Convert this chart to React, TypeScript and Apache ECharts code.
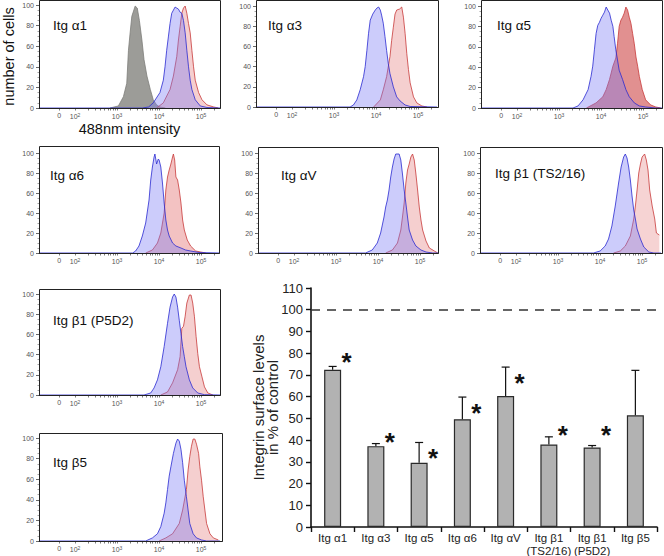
import React, { useEffect, useRef } from 'react';
import * as echarts from 'echarts';

const FONT = '"Liberation Sans", Arial, Helvetica, sans-serif';
const NARROW = '"Liberation Sans Narrow", "Liberation Sans", Arial, sans-serif';

// ---------- Histogram data: [log10 intensity, % of max cells] ----------
const a1Gray = [[2.83,0],[3.03,2],[3.15,11],[3.23,24],[3.27,56],[3.31,73],[3.35,89],[3.43,99],[3.48,97],[3.53,85],[3.59,66],[3.64,47],[3.71,31],[3.79,18],[3.86,8],[3.94,3],[4.02,1],[4.15,0]];
const a1Blue = [[1.14,0],[3.6,0],[3.75,1],[3.86,5],[4.02,15],[4.10,27],[4.14,40],[4.18,56],[4.22,69],[4.26,82],[4.30,92],[4.38,98],[4.42,97],[4.46,96],[4.50,93],[4.54,92],[4.58,85],[4.62,73],[4.66,56],[4.70,40],[4.74,27],[4.78,18],[4.86,8],[4.98,2],[5.14,0.5],[5.45,0]];
const a1Red = [[3.94,0],[4.10,5],[4.26,18],[4.34,31],[4.42,50],[4.46,66],[4.50,79],[4.54,92],[4.58,97],[4.62,99],[4.66,92],[4.70,82],[4.74,73],[4.78,56],[4.82,40],[4.86,27],[4.94,15],[5.02,8],[5.14,3],[5.30,1],[5.41,0]];

const a3Blue = [[1.14,0],[3.38,0],[3.46,2],[3.54,7],[3.62,17],[3.70,30],[3.74,40],[3.78,56],[3.82,73],[3.86,86],[3.92,92],[3.98,96],[4.02,98],[4.06,99],[4.10,96],[4.13,91],[4.17,83],[4.21,70],[4.25,56],[4.29,43],[4.33,33],[4.41,20],[4.49,10],[4.57,6],[4.69,2],[4.81,0.5],[5.45,0]];
const a3Red = [[3.94,0],[4.10,7],[4.17,17],[4.25,30],[4.33,50],[4.37,66],[4.41,79],[4.45,92],[4.49,96],[4.56,97],[4.61,99],[4.65,89],[4.69,73],[4.73,53],[4.77,37],[4.81,24],[4.89,10],[4.97,4],[5.09,1],[5.21,0]];

const a5Blue = [[1.14,0],[3.33,0],[3.45,2],[3.57,8],[3.69,18],[3.76,31],[3.80,41],[3.84,57],[3.88,73],[3.92,81],[3.96,84],[4.0,88],[4.04,91],[4.08,94],[4.12,99],[4.16,96],[4.20,93],[4.24,86],[4.28,80],[4.31,70],[4.35,57],[4.39,47],[4.43,37],[4.51,28],[4.59,18],[4.67,11],[4.79,5],[4.91,2],[5.06,1],[5.30,0],[5.45,0]];
const a5Red = [[3.65,0],[3.88,5],[4.04,11],[4.12,18],[4.20,28],[4.28,41],[4.35,49],[4.39,63],[4.43,80],[4.47,86],[4.51,89],[4.55,93],[4.59,99],[4.63,96],[4.67,89],[4.71,83],[4.75,73],[4.79,63],[4.83,50],[4.87,41],[4.91,31],[4.98,18],[5.06,8],[5.18,3],[5.30,1],[5.42,0]];

const a6Blue = [[1.14,0],[3.37,0],[3.44,2],[3.52,7],[3.60,17],[3.68,30],[3.76,53],[3.80,73],[3.84,86],[3.88,96],[3.90,99],[3.94,89],[3.98,94],[4.0,93],[4.04,86],[4.08,70],[4.12,50],[4.16,33],[4.20,23],[4.24,17],[4.32,10],[4.40,7],[4.52,5],[4.63,3],[4.75,2],[4.95,0.5],[5.45,0]];
const a6Red = [[3.68,0],[3.84,3],[3.96,10],[4.04,20],[4.12,40],[4.16,63],[4.20,76],[4.24,83],[4.28,89],[4.32,96],[4.34,99],[4.37,93],[4.40,76],[4.44,73],[4.48,63],[4.52,50],[4.56,33],[4.60,23],[4.67,13],[4.75,7],[4.87,2],[4.99,1],[5.11,0]];

const aVBlue = [[1.14,0],[3.70,0],[3.86,3],[3.98,10],[4.06,20],[4.14,36],[4.18,46],[4.22,53],[4.26,63],[4.30,76],[4.34,86],[4.38,94],[4.42,99],[4.50,99],[4.54,93],[4.58,79],[4.62,63],[4.66,50],[4.70,36],[4.74,23],[4.82,13],[4.90,7],[5.02,3],[5.14,1],[5.30,0],[5.45,0]];
const aVRed = [[4.18,0],[4.34,3],[4.46,10],[4.54,23],[4.58,36],[4.62,50],[4.66,70],[4.70,83],[4.74,89],[4.78,96],[4.82,99],[4.86,93],[4.90,79],[4.94,63],[4.98,46],[5.02,33],[5.06,23],[5.14,12],[5.22,5],[5.34,2],[5.42,0]];

const b1tsBlue = [[1.14,0],[3.84,0],[4.0,2],[4.12,7],[4.20,14],[4.28,27],[4.36,47],[4.44,70],[4.50,86],[4.56,96],[4.60,99],[4.64,95],[4.68,86],[4.72,73],[4.76,57],[4.80,43],[4.84,34],[4.88,24],[4.96,14],[5.04,6],[5.16,1],[5.28,0],[5.45,0]];
const b1tsRed = [[4.32,0],[4.48,2],[4.60,7],[4.72,17],[4.80,34],[4.84,47],[4.88,63],[4.92,80],[4.96,89],[5.0,96],[5.06,99],[5.10,93],[5.14,83],[5.18,63],[5.24,47],[5.30,34],[5.34,20],[5.41,18]];

const b1p5Blue = [[1.14,0],[3.64,0],[3.80,2],[3.88,7],[3.96,15],[4.04,28],[4.12,48],[4.20,71],[4.26,87],[4.32,97],[4.36,100],[4.40,97],[4.44,87],[4.48,74],[4.52,61],[4.56,48],[4.60,38],[4.64,28],[4.72,15],[4.80,7],[4.92,2],[5.08,0.3],[5.45,0]];
const b1p5Red = [[4.04,0],[4.20,3],[4.32,12],[4.44,25],[4.50,38],[4.54,66],[4.58,68],[4.62,78],[4.66,91],[4.72,99],[4.76,99],[4.80,91],[4.84,78],[4.88,58],[4.92,41],[4.96,28],[5.02,18],[5.08,8],[5.16,2],[5.28,0]];

const b5Blue = [[1.14,0],[3.68,0],[3.84,3],[3.96,7],[4.04,14],[4.12,27],[4.16,37],[4.20,50],[4.24,63],[4.28,72],[4.34,85],[4.40,95],[4.44,99],[4.48,97],[4.52,89],[4.56,76],[4.60,59],[4.65,43],[4.69,30],[4.73,17],[4.81,7],[4.89,3],[5.01,1],[5.13,0],[5.45,0]];
const b5Red = [[4.0,0],[4.16,3],[4.32,7],[4.48,17],[4.56,30],[4.65,50],[4.69,69],[4.73,82],[4.77,92],[4.81,99],[4.85,99],[4.89,94],[4.94,85],[4.97,72],[5.01,59],[5.05,43],[5.09,30],[5.13,17],[5.21,7],[5.29,3],[5.41,1]];

// histogram axis ticks (logicle axis positions)
const xTickPos = [1.62, 2, 3, 4, 5];
const xTickText = ['0', '10{s|2}', '10{s|3}', '10{s|4}', '10{s|5}'];
const xMinorPos = [1.62, 2, 2.301, 2.477, 2.602, 2.699, 2.778, 2.845, 2.903, 2.954, 3, 3.301, 3.477, 3.602, 3.699, 3.778, 3.845, 3.903, 3.954, 4, 4.301, 4.477, 4.602, 4.699, 4.778, 4.845, 4.903, 4.954, 5, 5.301];
const yTickVals = [0, 20, 40, 60, 80, 100];

// ---------- Bar chart data ----------
const categories = ['Itg α1', 'Itg α3', 'Itg α5', 'Itg α6', 'Itg αV', 'Itg β1\n(TS2/16)', 'Itg β1\n(P5D2)', 'Itg β5'];
const means = [72.4, 37.2, 29.6, 49.6, 60.3, 38.0, 36.6, 51.4];
const errUp = [1.5, 1.2, 9.3, 10.2, 13.3, 3.5, 0.9, 20.7];
const starAt = [78.3, 41.6, 34.0, 55.0, 68.8, 44.7, 44.7, null];

// ---------- Layout (panel frames in px; y100 = pixel row of the 100 tick) ----------
const panels = [
  { title: 'Itg α1', gray: a1Gray, blue: a1Blue, red: a1Red, left: 39, top: 0, width: 181, bottom: 108, y100: 5, tx: 53, ty: 25, redFill: 'rgba(228,130,130,0.38)' },
  { title: 'Itg α3', blue: a3Blue, red: a3Red, left: 256, top: 0, width: 182, bottom: 107, y100: 6, tx: 268, ty: 25, redFill: 'rgba(228,130,130,0.38)' },
  { title: 'Itg α5', blue: a5Blue, red: a5Red, left: 481, top: 0, width: 181, bottom: 108, y100: 6, tx: 497, ty: 25, redFill: 'rgba(205,70,70,0.6)' },
  { title: 'Itg α6', blue: a6Blue, red: a6Red, left: 39, top: 146, width: 180, bottom: 253, y100: 153, tx: 50, ty: 175, redFill: 'rgba(228,120,120,0.45)' },
  { title: 'Itg αV', blue: aVBlue, red: aVRed, left: 258, top: 147, width: 180, bottom: 253, y100: 153, tx: 281, ty: 175, redFill: 'rgba(228,130,130,0.38)' },
  { title: 'Itg β1 (TS2/16)', blue: b1tsBlue, red: b1tsRed, left: 480, top: 147, width: 182, bottom: 253, y100: 153, tx: 495, ty: 173, redFill: 'rgba(228,130,130,0.35)' },
  { title: 'Itg β1 (P5D2)', blue: b1p5Blue, red: b1p5Red, left: 39, top: 289, width: 181, bottom: 395, y100: 294, tx: 53, ty: 320, redFill: 'rgba(228,130,130,0.38)' },
  { title: 'Itg β5', blue: b5Blue, red: b5Red, left: 39, top: 433, width: 183, bottom: 541, y100: 438, tx: 53, ty: 462, redFill: 'rgba(228,130,130,0.38)' },
];

function buildOption() {
  const grid: any[] = [];
  const xAxis: any[] = [];
  const yAxis: any[] = [];
  const series: any[] = [];
  const graphic: any[] = [];

  panels.forEach((p, i) => {
    grid.push({ left: p.left, top: p.y100, width: p.width, height: p.bottom - p.y100, show: false, outerBoundsMode: 'none', containLabel: false });
    graphic.push({ type: 'rect', z: 5, shape: { x: p.left + 0.5, y: p.top + 0.5, width: p.width, height: p.bottom - p.top },
      style: { fill: 'none', stroke: '#222', lineWidth: 1 } });
    xAxis.push({
      type: 'value', gridIndex: i, min: 1.14, max: 1.14 + p.width / 42,
      axisLine: { show: true, onZero: false, lineStyle: { color: '#222', width: 1 } },
      axisTick: { show: true, customValues: xMinorPos, length: 2.5, lineStyle: { color: '#444', width: 0.7 } },
      axisLabel: {
        show: true, customValues: xTickPos, margin: 4, color: '#555', fontSize: 7, fontFamily: FONT,
        formatter: (v: number) => {
          const k = xTickPos.findIndex((q) => Math.abs(q - v) < 1e-6);
          return k >= 0 ? xTickText[k] : '';
        },
        rich: { s: { fontSize: 5, verticalAlign: 'top', color: '#555', padding: [0, 0, 3, 0] } },
      },
      splitLine: { show: false },
      ...(i === 0 ? { name: '488nm intensity', nameLocation: 'middle', nameGap: 13, nameTextStyle: { fontSize: 14.5, color: '#111', fontFamily: FONT, verticalAlign: 'top' } } : {}),
    });
    yAxis.push({
      type: 'value', gridIndex: i, min: 0, max: 100, interval: 20, position: 'left',
      axisLine: { show: true, onZero: false, lineStyle: { color: '#222', width: 1 } },
      axisTick: { show: true, length: 3, lineStyle: { color: '#444', width: 0.8 } },
      minorTick: { show: true, splitNumber: 4, length: 1.5, lineStyle: { color: '#666', width: 0.6 } },
      axisLabel: { show: false },
      splitLine: { show: false },
      ...(i === 0 ? { name: 'number of cells', nameLocation: 'middle', nameGap: 23, nameMoveOverlap: false, nameTextStyle: { fontSize: 14.5, color: '#111', fontFamily: FONT } } : {}),
    });
    // y tick labels for the 0..100 scale of this panel
    yTickVals.forEach((v) => {
      graphic.push({ type: 'text', x: p.left - 5, y: p.bottom - ((p.bottom - p.y100) * v) / 100, z: 10,
        style: { text: String(v), fontSize: 7, fill: '#555', fontFamily: FONT, align: 'right', verticalAlign: 'middle' } });
    });
    if (p.gray) {
      series.push({ type: 'line', xAxisIndex: i, yAxisIndex: i, data: p.gray, symbol: 'none', smooth: false,
        lineStyle: { color: '#7d7d7a', width: 0.8 }, areaStyle: { color: '#9c9c98', opacity: 1 }, z: 2 });
    }
    series.push({ type: 'line', xAxisIndex: i, yAxisIndex: i, data: p.red, symbol: 'none',
      lineStyle: { color: '#c83a3a', width: 0.8 }, areaStyle: { color: p.redFill, opacity: 1 }, z: 3 });
    series.push({ type: 'line', xAxisIndex: i, yAxisIndex: i, data: p.blue, symbol: 'none',
      lineStyle: { color: '#2a2ad0', width: 0.8 }, areaStyle: { color: 'rgba(120,120,245,0.38)', opacity: 1 }, z: 4 });
    graphic.push({ type: 'text', x: p.tx, y: p.ty, z: 10, style: { text: p.title, fontSize: 13.5, fill: '#111', fontFamily: NARROW, verticalAlign: 'middle', align: 'left' } });
  });

  // ---------- Bar chart ----------
  const bi = panels.length;
  grid.push({ left: 311, top: 288, width: 346, height: 239, show: false, outerBoundsMode: 'none', containLabel: false });
  xAxis.push({
    type: 'category', gridIndex: bi, data: categories,
    axisLine: { show: true, lineStyle: { color: '#111', width: 1.6 } },
    axisTick: { show: true, length: 5, lineStyle: { color: '#111', width: 1.4 } },
    axisLabel: { margin: 4, fontSize: 11.5, color: '#222', fontFamily: FONT, lineHeight: 13, interval: 0 },
  });
  yAxis.push({
    type: 'value', gridIndex: bi, min: 0, max: 110, interval: 10,
    axisLine: { show: true, lineStyle: { color: '#111', width: 1.6 } },
    axisTick: { show: true, length: 5, lineStyle: { color: '#111', width: 1.4 } },
    axisLabel: { margin: 8, fontSize: 13, color: '#222', fontFamily: FONT, showMaxLabel: true },
    splitLine: { show: false },
    name: 'Integrin surface levels\nin % of control', nameLocation: 'middle', nameGap: 32, nameMoveOverlap: false,
    nameTextStyle: { fontSize: 15, color: '#222', fontFamily: FONT, lineHeight: 13.5 },
  });
  series.push({
    type: 'bar', xAxisIndex: bi, yAxisIndex: bi, data: means, barWidth: 17,
    itemStyle: { color: '#b2b2b2', borderColor: '#2a2a2a', borderWidth: 1.2 },
    markLine: {
      symbol: 'none', silent: true, label: { show: false },
      lineStyle: { type: [9, 7], color: '#333', width: 1.6 },
      data: [{ yAxis: 100 }],
    },
    z: 2,
  });
  series.push({
    type: 'custom', xAxisIndex: bi, yAxisIndex: bi, z: 3,
    data: means.map((m, i) => [i, m, errUp[i]]),
    renderItem: (params: any, api: any) => {
      const x = api.value(0), m = api.value(1), e = api.value(2);
      const p0 = api.coord([x, m]);
      const p1 = api.coord([x, m + e]);
      return {
        type: 'group',
        children: [
          { type: 'line', shape: { x1: p0[0], y1: p0[1], x2: p1[0], y2: p1[1] }, style: { stroke: '#111', lineWidth: 1.2 } },
          { type: 'line', shape: { x1: p1[0] - 4, y1: p1[1], x2: p1[0] + 4, y2: p1[1] }, style: { stroke: '#111', lineWidth: 1.2 } },
        ],
      };
    },
  });
  series.push({
    type: 'custom', xAxisIndex: bi, yAxisIndex: bi, z: 4,
    data: starAt.map((s, i) => [i, s]).filter((d) => d[1] !== null),
    renderItem: (params: any, api: any) => {
      const p = api.coord([api.value(0), api.value(1)]);
      return { type: 'text', x: p[0] + 14, y: p[1] + 5, style: { text: '*', fontSize: 26, fontWeight: 'bold', fill: '#111', fontFamily: FONT, align: 'center', verticalAlign: 'middle' } };
    },
  });

  return { animation: false, backgroundColor: '#fff', grid, xAxis, yAxis, series, graphic };
}

export default function App() {
  const ref = useRef<HTMLDivElement>(null);
  useEffect(() => {
    if (!ref.current) return;
    const chart = echarts.init(ref.current, undefined, { renderer: 'svg' });
    chart.setOption(buildOption() as any);
    return () => chart.dispose();
  }, []);
  return <div ref={ref} style={{ position: 'absolute', left: 0, top: 0, width: 664, height: 556 }} />;
}
